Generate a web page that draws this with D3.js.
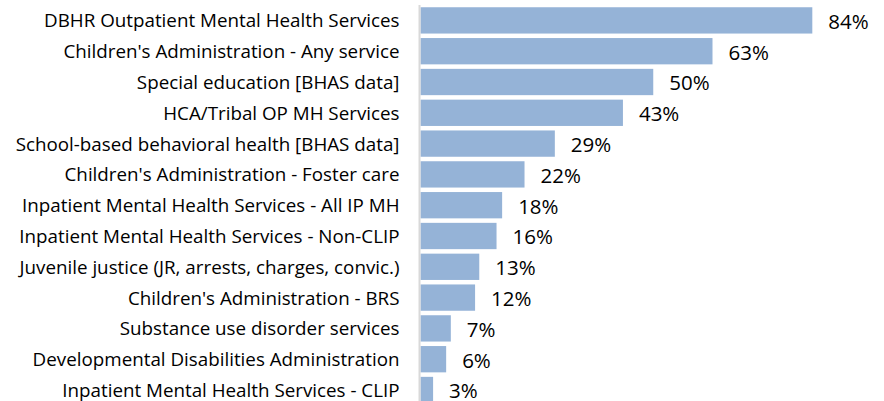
<!DOCTYPE html>
<html>
<head>
<meta charset="utf-8">
<script src="https://cdn.jsdelivr.net/npm/d3@7"></script>
<style>
  body { margin: 0; background: #fff; }
  svg { display: block; font-family: "Open Sans", "Noto Sans", sans-serif; }
</style>
</head>
<body>
<div id="chart"></div>
<script>
// categories, top to bottom
const categories = [
  "DBHR Outpatient Mental Health Services",
  "Children's Administration - Any service",
  "Special education [BHAS data]",
  "HCA/Tribal OP MH Services",
  "School-based behavioral health [BHAS data]",
  "Children's Administration - Foster care",
  "Inpatient Mental Health Services - All IP MH",
  "Inpatient Mental Health Services - Non-CLIP",
  "Juvenile justice (JR, arrests, charges, convic.)",
  "Children's Administration - BRS",
  "Substance use disorder services",
  "Developmental Disabilities Administration",
  "Inpatient Mental Health Services - CLIP"
];

// percent
const values = [84, 62.6, 49.9, 43.4, 28.8, 22.3, 17.5, 16.3, 12.6, 11.7, 6.5, 5.5, 2.7];

const width = 884, height = 401;

const svg = d3.select("#chart").append("svg")
  .attr("width", width)
  .attr("height", height);

// scales
const x = d3.scaleLinear()
  .domain([0, 90])
  .range([420.5, 840.3]);

const y = d3.scaleBand()
  .domain(categories)
  .range([5, 5 + 30.8 * categories.length])
  .paddingInner(0.146)
  .paddingOuter(0.073);

// bars
svg.selectAll(".bar")
  .data(values)
  .enter().append("rect")
  .attr("class", "bar")
  .attr("x", x(0))
  .attr("y", (d, i) => y(categories[i]))
  .attr("width", d => x(d) - x(0))
  .attr("height", y.bandwidth())
  .style("fill", "#95b3d7");

// category axis on the left
const yAxis = svg.append("g")
  .attr("transform", "translate(" + 419.5 + ",0)")
  .call(d3.axisLeft(y).tickSize(0).tickPadding(20));

yAxis.select(".domain")
  .attr("d", "M0,5V" + height)
  .style("stroke", "#d9d9d9")
  .style("stroke-width", 2);

yAxis.selectAll("text")
  .style("font-family", "'Open Sans', 'Noto Sans', sans-serif")
  .style("font-size", "18.8px")
  .attr("fill", "#000")
  .attr("y", 0.3)
  .attr("dy", "0.36em");

// value labels
const fmt = d => Math.round(d) + "%";
svg.selectAll(".val")
  .data(values)
  .enter().append("text")
  .attr("class", "val")
  .attr("x", d => x(d) + 16)
  .attr("y", (d, i) => y(categories[i]) + y.bandwidth() / 2 + 1)
  .attr("dy", "0.36em")
  .style("font-size", "20.5px")
  .attr("fill", "#000")
  .text(fmt);
</script>
</body>
</html>
